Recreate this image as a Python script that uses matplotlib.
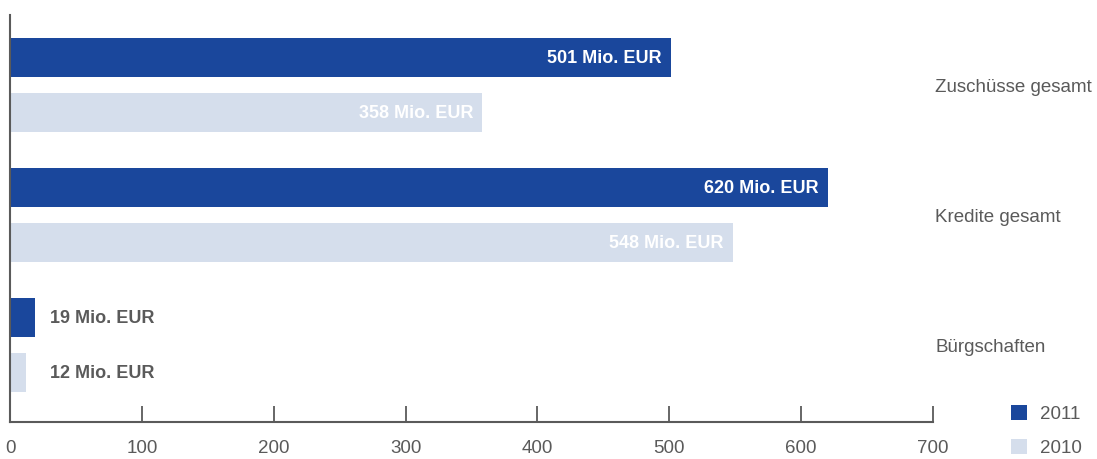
import matplotlib
matplotlib.use("Agg")
import matplotlib.pyplot as plt
import numpy as np

# data
categories = ["Zuschüsse gesamt", "Kredite gesamt", "Bürgschaften"]
values_2011 = [501, 620, 19]
values_2010 = [358, 548, 12]
series_names = ["2011", "2010"]
xticks = [0, 100, 200, 300, 400, 500, 600, 700]

dark_blue = "#1a479c"
light_blue = "#d5deec"
grey = "#5a5a5a"

plt.rcParams['font.family'] = ['Liberation Sans', 'DejaVu Sans']

fig = plt.figure(figsize=(10.97, 4.59), dpi=100)
W, H = 1097, 459
ax = fig.add_axes([10 / W, (H - 422) / H, (933 - 10) / W, (422 - 15) / H])

y = np.arange(len(categories))
off = 0.2115
h = 0.3
bars_a = ax.barh(y - off, values_2011, height=h, color=dark_blue, label=series_names[0])
bars_b = ax.barh(y + off, values_2010, height=h, color=light_blue, label=series_names[1])

# value labels: inside bar when wide, outside for small ones
for bars in (bars_a, bars_b):
    for rect in bars:
        v = rect.get_width()
        cy = rect.get_y() + rect.get_height() / 2
        txt = f"{v:.0f} Mio. EUR"
        if v > 100:
            ax.annotate(txt, (v, cy), xytext=(-6.5, -0.7), textcoords="offset points",
                        ha="right", va="center", color="white",
                        fontsize=13, fontweight="bold")
        else:
            ax.annotate(txt, (30, cy), xytext=(0, -0.7), textcoords="offset points",
                        ha="left", va="center", color=grey,
                        fontsize=13, fontweight="bold")

# category names on the right
for i, c in enumerate(categories):
    ax.annotate(c, (700, i), xytext=(1.5, -2.2), textcoords="offset points",
                ha="left", va="center", color=grey, fontsize=13.5, annotation_clip=False)

ax.set_xlim(0, 700)
ax.set_ylim(2.593, -0.538)
ax.set_xticks(xticks)
ax.set_xticklabels([str(t) for t in xticks])
ax.set_yticks([])
ax.tick_params(axis="x", direction="in", length=11.5, width=1.3, color=grey,
               labelcolor=grey, labelsize=13.5, pad=13)
for s in ("top", "right"):
    ax.spines[s].set_visible(False)
for s in ("left", "bottom"):
    ax.spines[s].set_color(grey)
    ax.spines[s].set_linewidth(1.5)

leg = fig.legend(handles=[bars_a, bars_b], loc="upper left",
                 bbox_to_anchor=(1011 / W, (H - 405) / H), frameon=False,
                 borderpad=0, borderaxespad=0,
                 handlelength=0.85, handleheight=0.85, handletextpad=0.7,
                 labelspacing=0.85, fontsize=13.5, labelcolor=grey)

fig.savefig("out.png", dpi=100)
